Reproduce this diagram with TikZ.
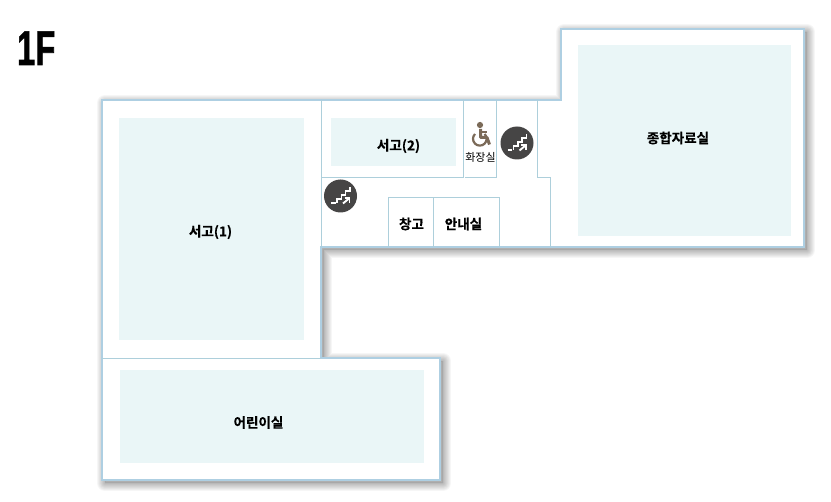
\documentclass[tikz,border=0pt]{standalone}
\usepackage{fontspec}
\setmainfont{Noto Sans CJK KR}[BoldFont={Noto Sans CJK KR Bold},BoldFeatures={FakeBold=0.5}]
\newfontfamily\titlefont{Liberation Sans Bold}[FakeStretch=0.66,FakeBold=1.4,LetterSpace=1]
\definecolor{wallc}{HTML}{AECFE2}
\definecolor{linec}{HTML}{ADCFDB}
\definecolor{roomc}{HTML}{EAF6F7}
\definecolor{iconc}{HTML}{464545}
\definecolor{wheelc}{HTML}{7B6A58}
\tikzset{
  x=1bp,y=-1bp,
  wall/.style={draw=wallc,line width=2.6bp,line join=miter},
  inner line/.style={draw=linec,line width=1bp},
  roomfill/.style={fill=roomc,draw=none,anchor=north west,inner sep=0pt,outer sep=0pt},
  label text/.style={font=\fontsize{13.6}{14}\selectfont\bfseries,text=black,inner sep=0pt},
  staircircle/.style={circle,fill=iconc,draw=none,minimum size=33bp,inner sep=0pt},
  pics/stairicon/.style={code={
    \draw[draw=white,line width=1.9bp,line join=miter] (-9.5,7) -- (-5,7);
    \draw[draw=white,line width=1.9bp,line join=miter] (-3.5,7) -- (-3.5,3) -- (1,3) -- (1,-1) -- (5,-1) -- (5,-5) -- (9.5,-5) -- (9.5,-9);
    \draw[draw=white,line width=1.9bp] (2.5,7.5) -- (8.5,2.5);
    \draw[draw=white,line width=1.7bp] (4,2) -- (9,2) -- (9,7);
  }}
}
\newcommand{\floorshape}{(102,100) -- (561,100) -- (561,29) -- (804,29) -- (804,247) -- (321,247) -- (321,358) -- (440,358) -- (440,480) -- (102,480) -- cycle}
\begin{document}
\begin{tikzpicture}
\useasboundingbox (0,0) rectangle (831,502);
\fill[white] (0,0) rectangle (831,502);
% soft shadow
\foreach \r in {16,14,...,2}{
  \draw[black,opacity=.035,line join=round,line width=\r bp,shift={(3,3)}] \floorshape;
}
\fill[black,opacity=.1,shift={(3,3)}] \floorshape;
\path[fill=white] \floorshape;
\path[wall] \floorshape;
% room fills
\node[roomfill,minimum width=185bp,minimum height=222bp] (room1) at (119,118) {};
\node[roomfill,minimum width=125bp,minimum height=48bp] (room2) at (331,118) {};
\node[roomfill,minimum width=304bp,minimum height=93bp] (room3) at (120,370) {};
\node[roomfill,minimum width=213bp,minimum height=191bp] (room4) at (578,45) {};
% inner walls
\draw[inner line] (321,100) -- (321,247);
\draw[inner line] (102,358) -- (321,358);
\draw[inner line] (321,177.5) -- (463.5,177.5);
\draw[inner line] (463.5,100) -- (463.5,177.5);
\draw[inner line] (465,177.5) -- (496.5,177.5) -- (496.5,100);
\draw[inner line] (537.5,100) -- (537.5,177.5) -- (550.5,177.5) -- (550.5,247);
\draw[inner line] (388.5,247) -- (388.5,197.5) -- (499.5,197.5) -- (499.5,247);
\draw[inner line] (433.5,197.5) -- (433.5,247);
% labels
\node[label text] (t1) at (210.5,232) {서고(1)};
\node[label text] (t2) at (398.5,146) {서고(2)};
\node[label text] (t3) at (258.5,422.5) {어린이실};
\node[label text] (t4) at (678,138) {종합자료실};
\node[label text] (t5) at (411.5,224) {창고};
\node[label text] (t6) at (463.5,224) {안내실};
\node[inner sep=0pt,font=\fontsize{11}{11}\selectfont,text=black] (t7) at (480.5,157) {화장실};
\node[inner sep=0pt,anchor=base west,font=\titlefont\fontsize{49}{49}\selectfont,text=black] (title) at (17,65) {1F};
% stairs
\node[staircircle] (s1) at (517,143) {};
\node[staircircle] (s2) at (340.5,196) {};
\pic at (s1.center) {stairicon};
\pic at (s2.center) {stairicon};
% wheelchair
\fill[wheelc] (480,125) circle (3.1);
\draw[wheelc,line width=3bp,line join=round] (480.5,129) -- (480.5,137.5) -- (487,137.5) -- (489.5,144.5);
\draw[wheelc,line width=2bp] (480.5,132.5) -- (487,132.5);
\draw[wheelc,line width=2.2bp] (475,134) arc[start angle=225,delta angle=-270,radius=6.8];
\end{tikzpicture}
\end{document}
